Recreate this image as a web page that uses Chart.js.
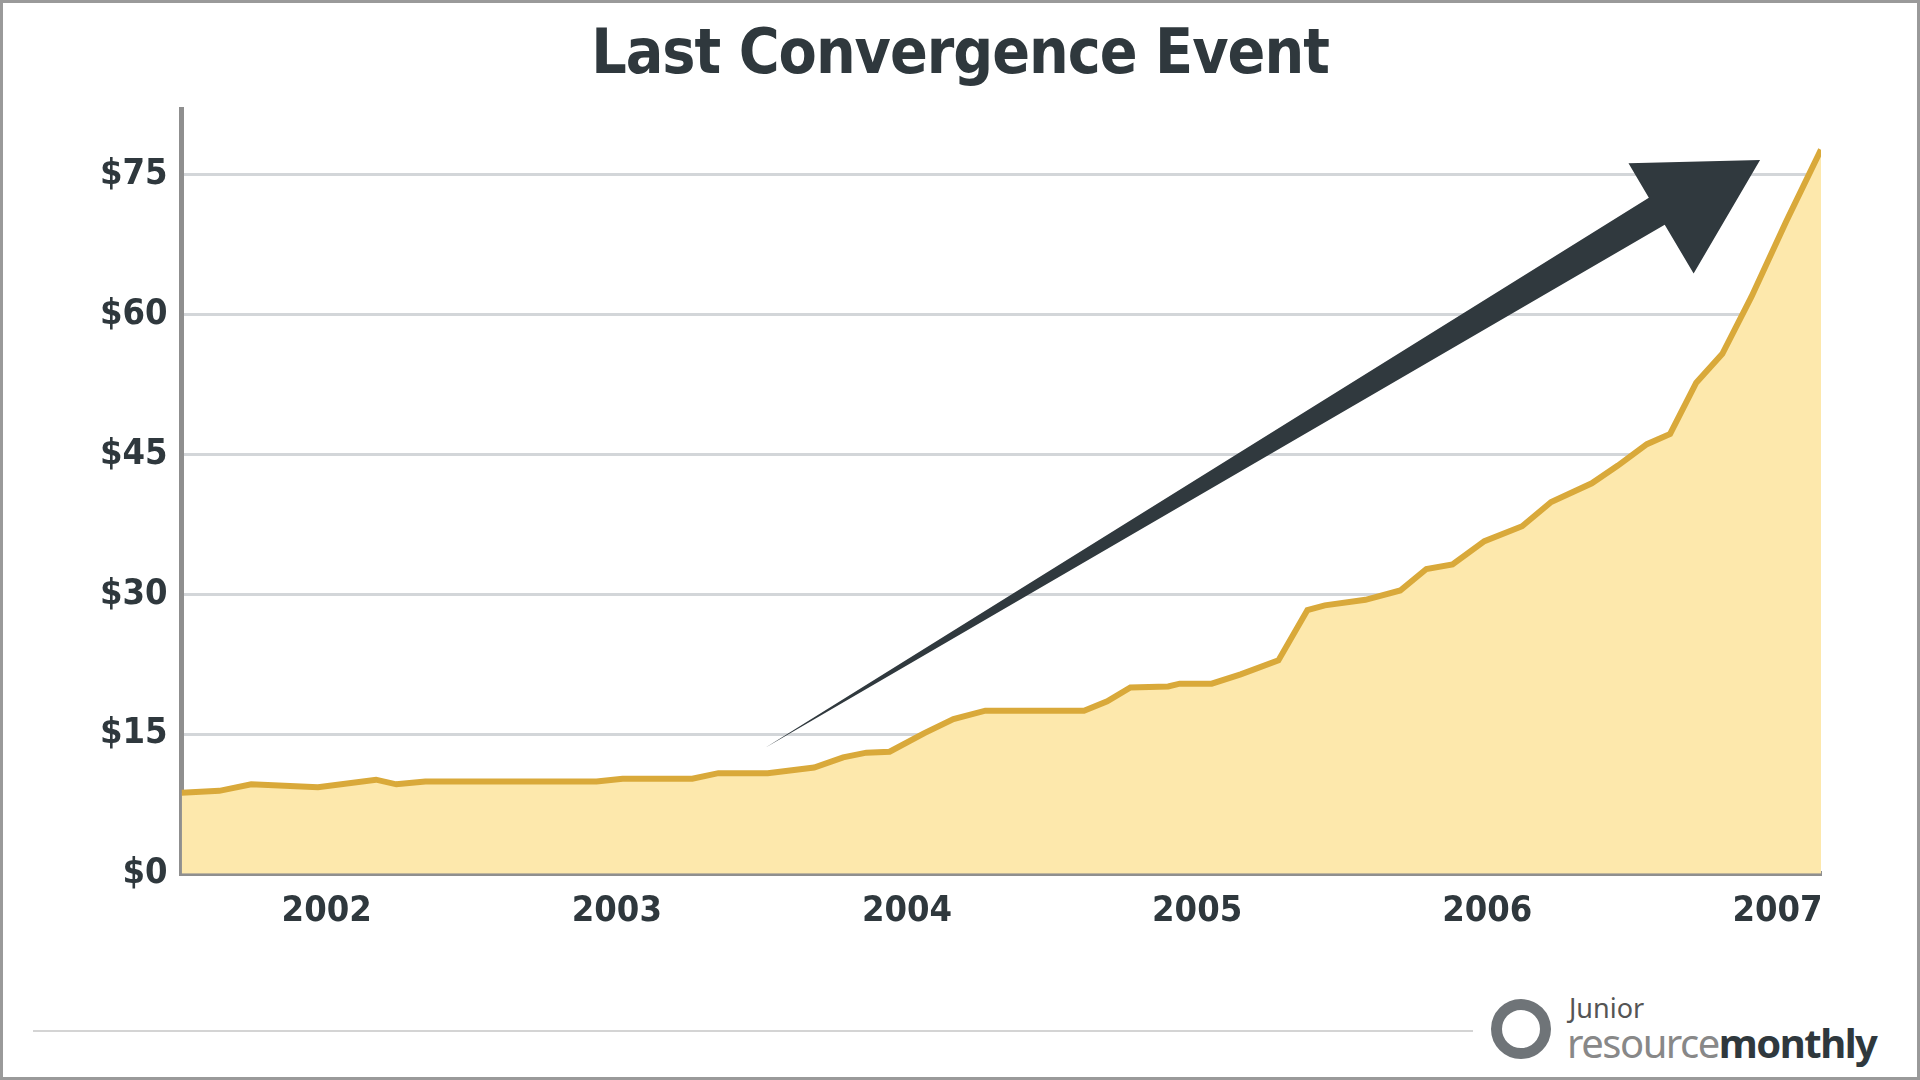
<!DOCTYPE html>
<html>
<head>
<meta charset="utf-8">
<script src="https://cdn.jsdelivr.net/npm/chart.js@4"></script>
<style>
  html, body { margin: 0; padding: 0; background: #fff; }
  #frame { position: absolute; left: 0; top: 0; width: 1914px; height: 1074px; border: 3px solid #9a9a9a; background: #fff; }
  h1 { position: absolute; top: 12px; left: 0; width: 100%; margin: 0; text-align: center;
       font-family: "DejaVu Sans Condensed", "DejaVu Sans"; font-weight: bold; font-size: 62px; color: #2f383d; letter-spacing: -1px; }
  #wrap { position: absolute; left: 83px; top: 71px; width: 1745px; height: 867px; }
  #footline { position: absolute; left: 30px; top: 1027px; width: 1440px; height: 2px; background: #d4d4d4; }
  #logo { position: absolute; left: 1488px; top: 990px; font-family: "Noto Sans", sans-serif; }
  #logo .ring { position: absolute; left: 0; top: 6px; width: 38px; height: 38px; border-radius: 50%; border: 11px solid #6f7478; }
  #logo .j { position: absolute; left: 78px; top: -4px; font-size: 27px; color: #555; }
  #logo .r { position: absolute; left: 76px; top: 22px; font-size: 40px; color: #888; white-space: nowrap; letter-spacing: -1.5px; }
  #logo .r b { color: #2f383d; }
</style>
</head>
<body>
<div id="frame">
  <h1>Last Convergence Event</h1>
  <div id="wrap"><canvas id="priceChart"></canvas></div>
  <div id="footline"></div>
  <div id="logo"><div class="ring"></div><div class="j">Junior</div><div class="r">resource<b>monthly</b></div></div>
</div>
<script>
// price points (year as decimal, $)
const prices = [
  [2001.50, 8.7], [2001.63, 8.9], [2001.74, 9.6], [2001.97, 9.3], [2002.17, 10.1],
  [2002.24, 9.6], [2002.34, 9.9], [2002.93, 9.9], [2003.02, 10.2], [2003.26, 10.2],
  [2003.35, 10.8], [2003.52, 10.8], [2003.68, 11.4], [2003.78, 12.5], [2003.86, 13.0],
  [2003.94, 13.1], [2004.06, 15.1], [2004.16, 16.6], [2004.27, 17.5], [2004.61, 17.5],
  [2004.69, 18.5], [2004.77, 20.0], [2004.90, 20.1], [2004.94, 20.4], [2005.05, 20.4],
  [2005.15, 21.4], [2005.28, 22.9], [2005.38, 28.3], [2005.44, 28.8], [2005.58, 29.4],
  [2005.70, 30.4], [2005.79, 32.7], [2005.88, 33.2], [2005.99, 35.7], [2006.12, 37.3],
  [2006.22, 39.9], [2006.36, 41.9], [2006.45, 43.8], [2006.55, 46.1], [2006.63, 47.2],
  [2006.72, 52.7], [2006.81, 55.8], [2006.91, 61.9], [2007.03, 70.0], [2007.15, 77.7]
];

// big dark arrow drawn on top, in data coordinates
const arrowPlugin = {
  id: 'arrow',
  afterDatasetsDraw(chart) {
    const { ctx, scales: { x, y } } = chart;
    const x0 = x.getPixelForValue(2003.51), y0 = y.getPixelForValue(13.5);
    const x1 = x.getPixelForValue(2006.94), y1 = y.getPixelForValue(76.6);
    const ang = Math.atan2(y1 - y0, x1 - x0);
    const len = Math.hypot(x1 - x0, y1 - y0);
    const headLen = 115, headW = 64, shaftW = 24;
    ctx.save();
    ctx.translate(x0, y0);
    ctx.rotate(ang);
    ctx.beginPath();
    ctx.moveTo(0, 0);
    ctx.lineTo(len - headLen, -shaftW);
    ctx.lineTo(len - headLen, -headW);
    ctx.lineTo(len, 0);
    ctx.lineTo(len - headLen, headW);
    ctx.lineTo(len - headLen, shaftW * 0.3);
    ctx.closePath();
    ctx.fillStyle = '#30393e';
    ctx.fill();
    ctx.restore();
  }
};

const ctx = document.getElementById('priceChart').getContext('2d');
new Chart(ctx, {
  type: 'line',
  data: {
    datasets: [{
      data: prices.map(p => ({ x: p[0], y: p[1] })),
      borderColor: '#d9a93a',
      backgroundColor: '#fde8ac',
      borderWidth: 6,
      fill: 'origin',
      pointRadius: 0,
      tension: 0
    }]
  },
  options: {
    responsive: true,
    maintainAspectRatio: false,
    animation: false,
    layout: { padding: { right: 10 } },
    plugins: { legend: { display: false }, tooltip: { enabled: false } },
    scales: {
      x: {
        type: 'linear', min: 2001.5, max: 2007.15,
        afterBuildTicks: s => { s.ticks = [2002, 2003, 2004, 2005, 2006, 2007].map(v => ({ value: v })); },
        grid: { display: false },
        border: { color: '#8f8f8f', width: 5 },
        ticks: { color: '#2f383d', padding: 8, font: { family: 'DejaVu Sans Condensed', weight: 'bold', size: 36 }, callback: v => String(v) }
      },
      y: {
        min: 0, max: 82,
        afterBuildTicks: s => { s.ticks = [0, 15, 30, 45, 60, 75].map(v => ({ value: v })); },
        grid: { color: '#d3d6d9', lineWidth: 3, drawTicks: false },
        border: { color: '#8f8f8f', width: 5 },
        ticks: { color: '#2f383d', padding: 14, font: { family: 'DejaVu Sans Condensed', weight: 'bold', size: 36 }, callback: v => '$' + v }
      }
    }
  },
  plugins: [arrowPlugin]
});
</script>
</body>
</html>
